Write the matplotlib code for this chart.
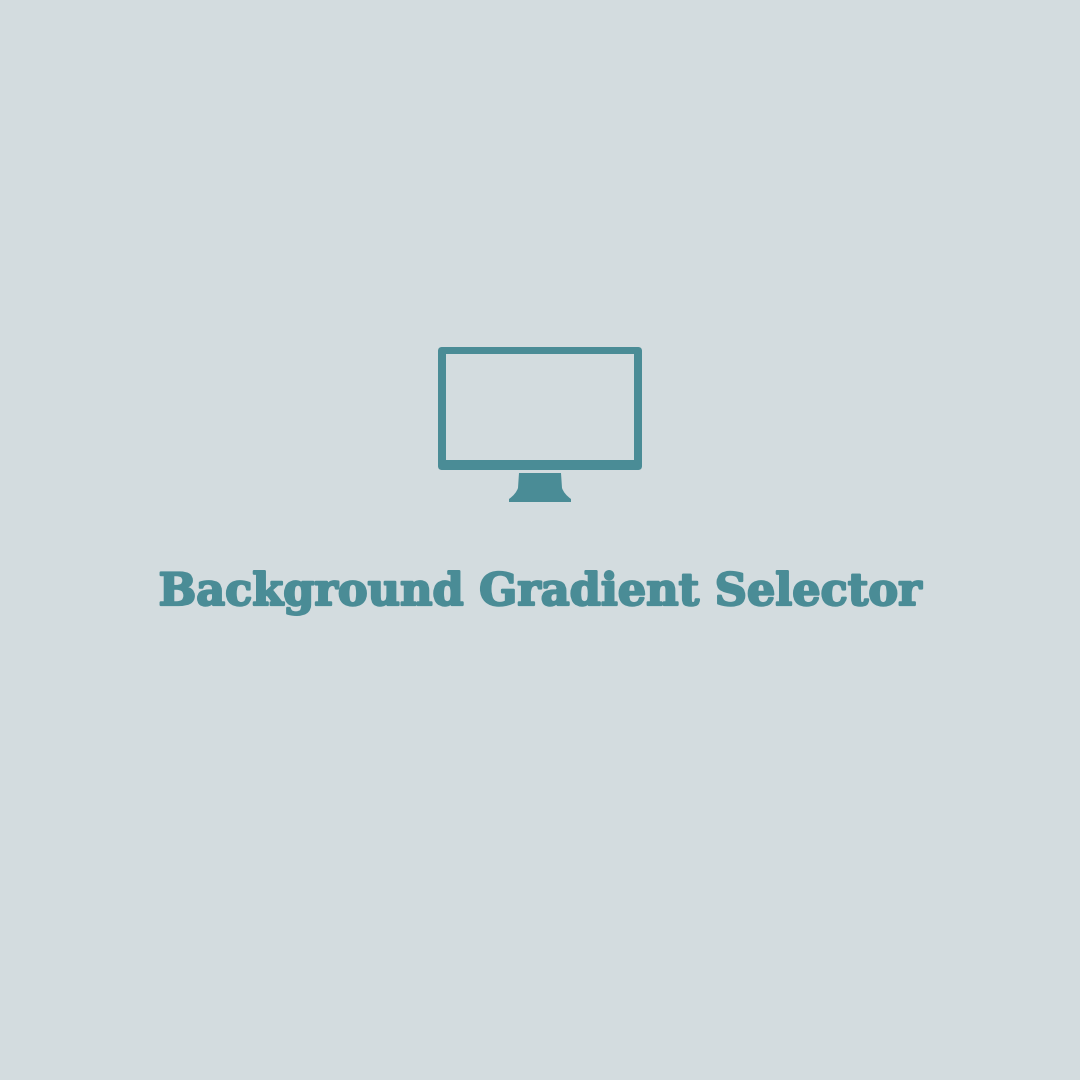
import matplotlib.pyplot as plt
import matplotlib.patheffects as pe
from matplotlib.patches import FancyBboxPatch, PathPatch
from matplotlib.path import Path

# colours and text
bg_color = '#D3DCDF'
teal = '#4A8C96'
title = "Background Gradient Selector"

fig = plt.figure(figsize=(10.8, 10.8), dpi=100, facecolor=bg_color)
ax = fig.add_axes([0, 0, 1, 1])
ax.set_facecolor(bg_color)
ax.set_xlim(0, 1080)
ax.set_ylim(1080, 0)
ax.axis('off')

# monitor frame (outer rounded box, then inner screen in bg colour)
outer = FancyBboxPatch((438, 347), 204, 123, boxstyle='round,pad=0,rounding_size=4',
                       facecolor=teal, edgecolor='none')
inner = FancyBboxPatch((446, 354), 188, 106, boxstyle='square,pad=0',
                       facecolor=bg_color, edgecolor='none')
ax.add_patch(outer)
ax.add_patch(inner)

# stand, with a small gap under the frame
verts = [(519, 473), (561, 473), (562, 488), (564, 494), (571, 499),
         (571, 502), (509, 502), (509, 499), (516, 494), (518, 488), (519, 473)]
codes = [Path.MOVETO, Path.LINETO, Path.LINETO, Path.CURVE3, Path.CURVE3,
         Path.LINETO, Path.LINETO, Path.LINETO, Path.CURVE3, Path.CURVE3, Path.CLOSEPOLY]
ax.add_patch(PathPatch(Path(verts, codes), facecolor=teal, edgecolor='none'))

# title, scaled to span the same width as in the reference
txt = ax.text(540, 605, title, ha='center', va='baseline', color=teal,
              fontsize=40, fontweight='bold', family='DejaVu Serif',
              path_effects=[pe.withStroke(linewidth=1.6, foreground=teal)])
fig.canvas.draw()
w = txt.get_window_extent().width
txt.set_fontsize(40 * 762 / w)

fig.savefig('out.png', dpi=100, facecolor=bg_color)
